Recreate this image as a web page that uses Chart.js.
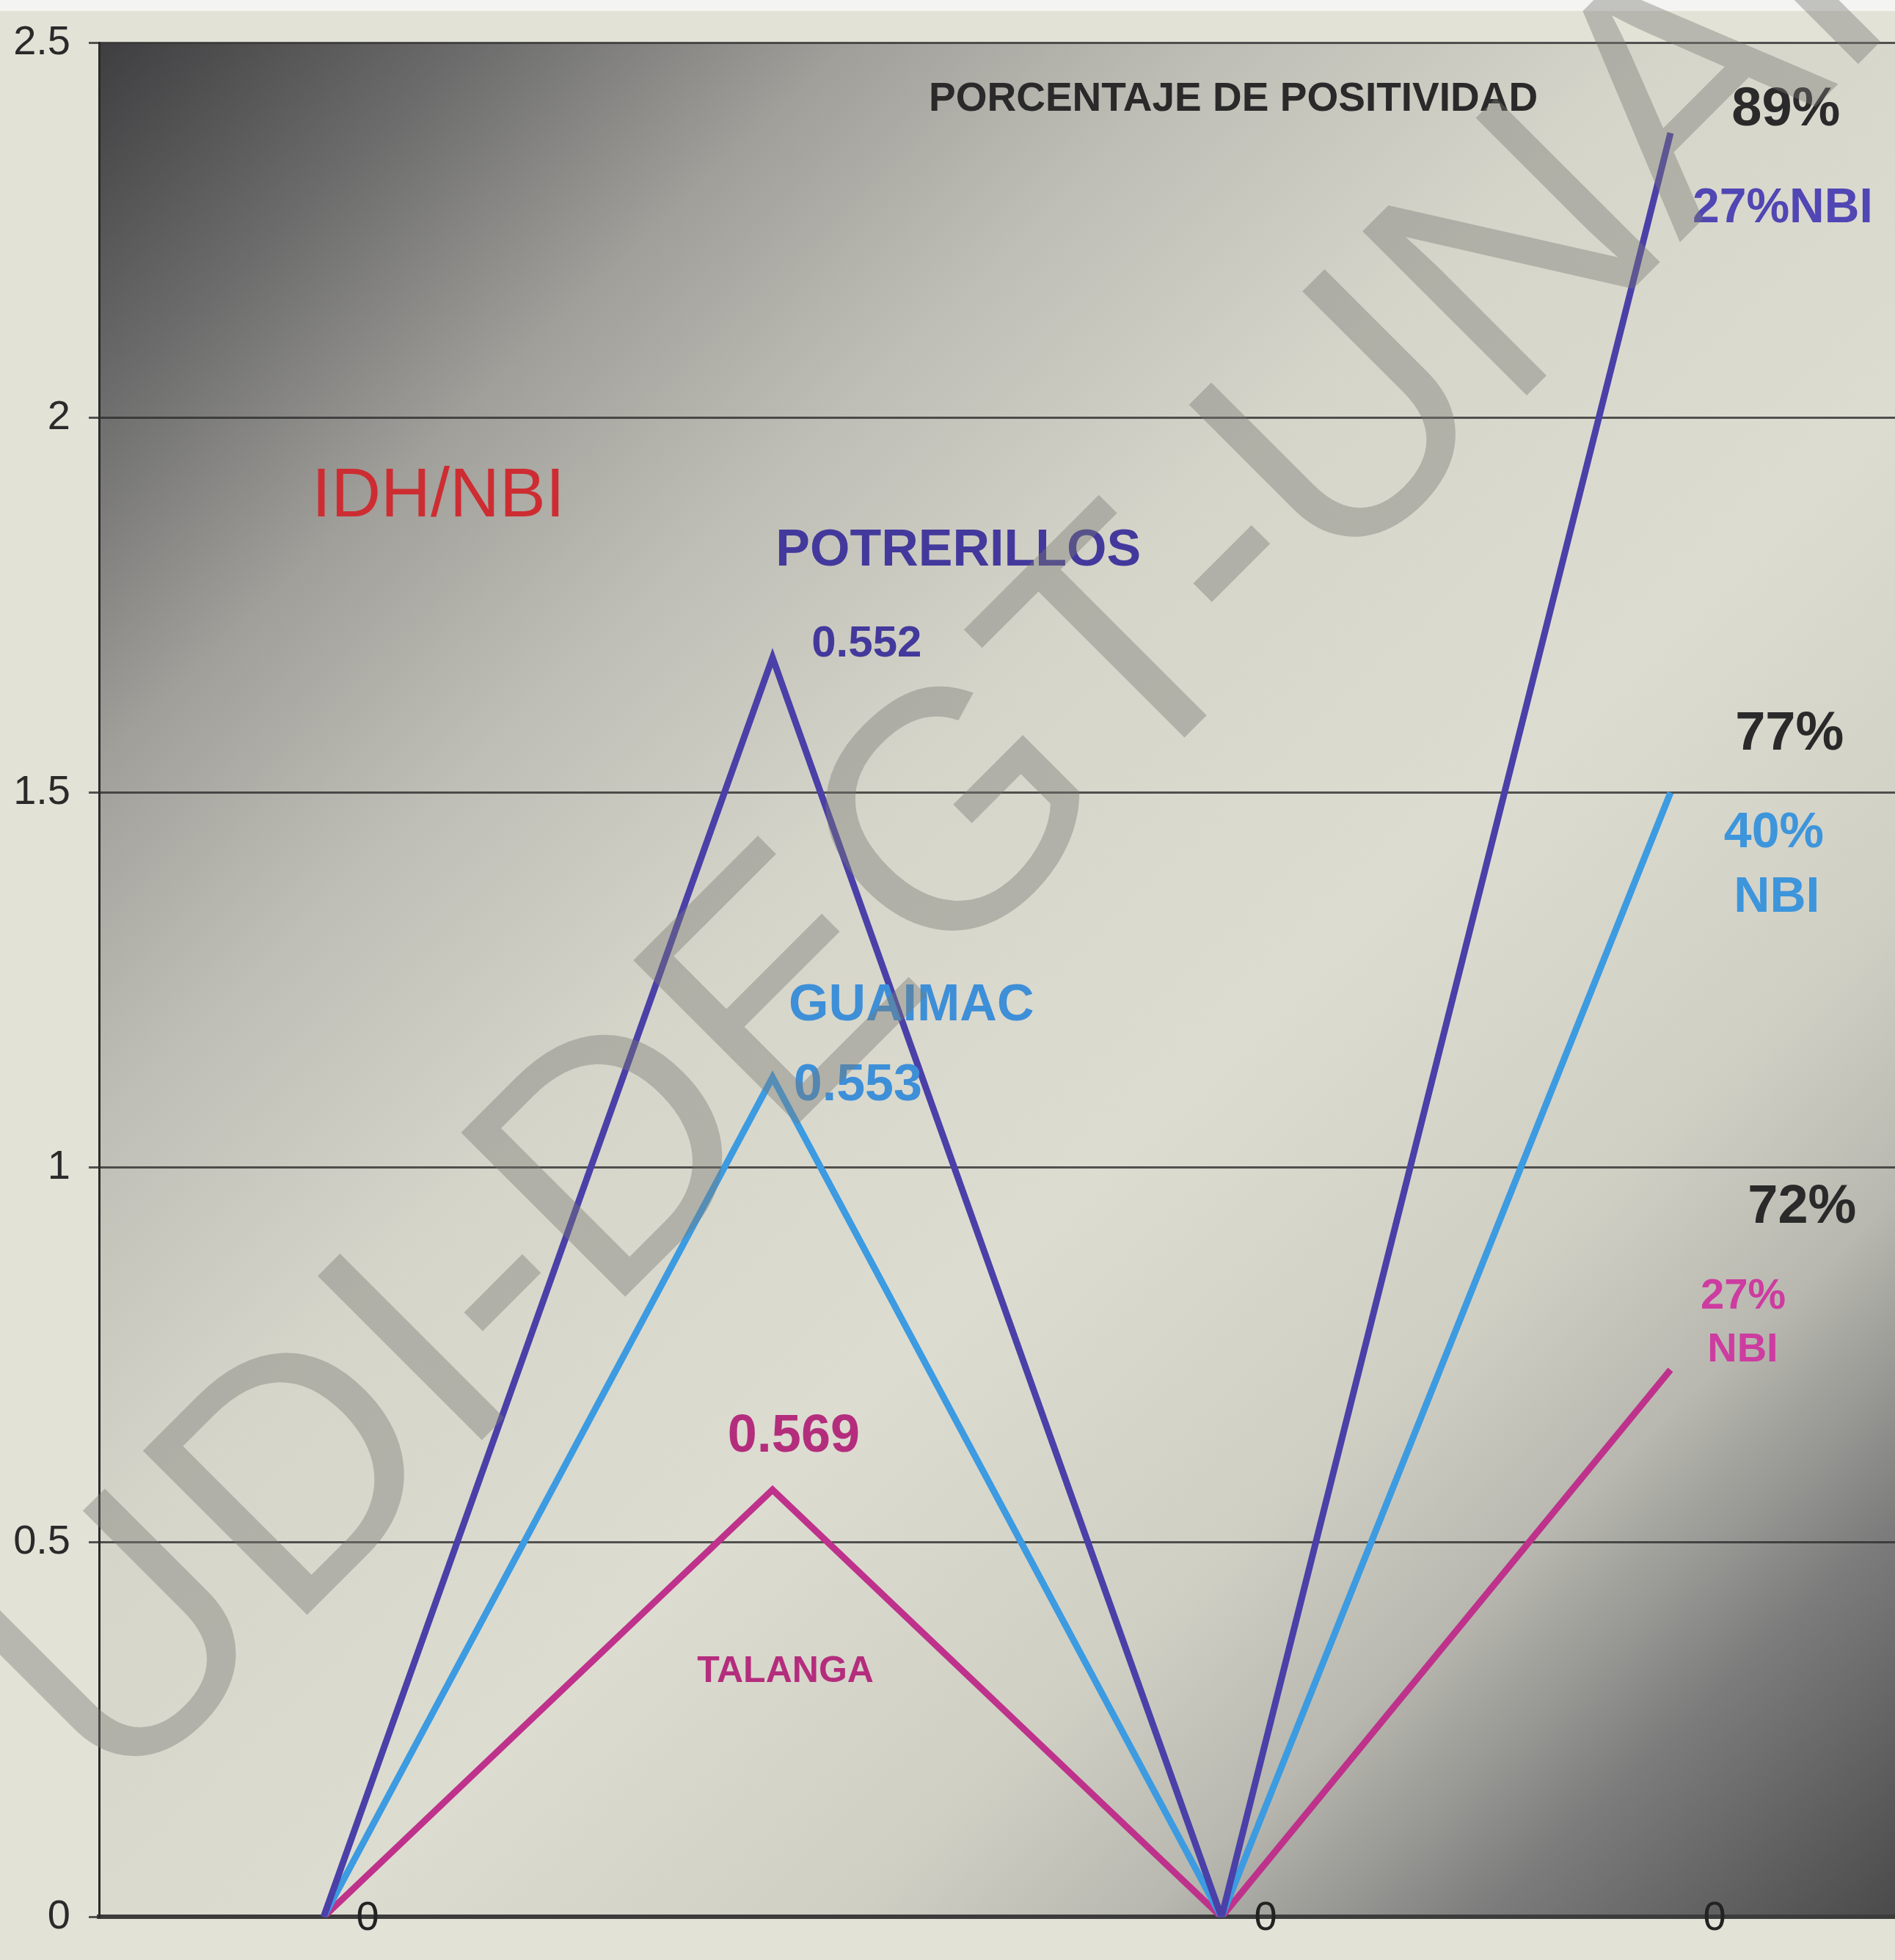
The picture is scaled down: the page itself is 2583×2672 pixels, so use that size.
<!DOCTYPE html>
<html>
<head>
<meta charset="utf-8">
<title>IDH/NBI - Porcentaje de positividad</title>
<script src="https://cdn.jsdelivr.net/npm/chart.js@4.4.1/dist/chart.umd.min.js"></script>
<style>
  html, body { margin: 0; padding: 0; background: #e3e2d7; }
  canvas { display: block; }
</style>
</head>
<body>
<canvas id="myChart" width="2583" height="2672"></canvas>
<script>
// x categories (tick labels as printed under the axis)
const categories = ['0', '', '0', '0'];

// series values
const potrerillos = [0, 1.68, 0, 2.38];
const guaimac = [0, 1.12, 0, 1.50];
const talanga = [0, 0.57, 0, 0.73];

// y axis
const yTicks = [0, 0.5, 1, 1.5, 2, 2.5];

// text written on the chart
const noteTexts = [
    'PORCENTAJE DE POSITIVIDAD', '89%', '27%NBI', '77%', '40%', 'NBI',
    '72%', '27%', 'NBI', 'IDH/NBI', 'POTRERILLOS', '0.552',
    'GUAIMAC', '0.553', '0.569', 'TALANGA'
];
const watermarkText = 'UDI-DEGT-UNAH';

const INDIGO = '#4a40a8';
const SKY = '#3c9be1';
const MAGENTA = '#be328c';
const BOLD = 'bold';
const SANS = "'Liberation Sans', Arial, sans-serif";

// where each note sits (x = category index, y = axis value) and how it looks
const noteStyles = [
    {x: 1.348, y: 2.424, size: 55, weight: BOLD, color: '#2a2a2a'},
    {x: 3.136, y: 2.410, size: 74, weight: BOLD, color: '#2a2a2a'},
    {x: 3.049, y: 2.279, size: 66, weight: BOLD, color: '#5046b4'},
    {x: 3.144, y: 1.577, size: 74, weight: BOLD, color: '#2a2a2a'},
    {x: 3.119, y: 1.445, size: 68, weight: BOLD, color: '#3d95dc'},
    {x: 3.141, y: 1.359, size: 68, weight: BOLD, color: '#3d95dc'},
    {x: 3.172, y: 0.946, size: 74, weight: BOLD, color: '#2a2a2a'},
    {x: 3.067, y: 0.827, size: 58, weight: BOLD, color: '#cd3ca0'},
    {x: 3.082, y: 0.756, size: 56, weight: BOLD, color: '#cd3ca0'},
    {x: -0.026, y: 1.894, size: 94, weight: 'normal', color: '#cd2d32'},
    {x: 1.007, y: 1.822, size: 70, weight: BOLD, color: '#43399c'},
    {x: 1.087, y: 1.698, size: 60, weight: BOLD, color: '#43399c'},
    {x: 1.036, y: 1.215, size: 70, weight: BOLD, color: '#3d8fd8'},
    {x: 1.047, y: 1.108, size: 70, weight: BOLD, color: '#3d8fd8'},
    {x: 0.900, y: 0.640, size: 72, weight: BOLD, color: '#b42d7d'},
    {x: 0.832, y: 0.327, size: 50, weight: BOLD, color: '#b42d7d'}
];

// paper + shaded plot area like the printed chart
const backdrop = {
    id: 'backdrop',
    beforeDraw(chart) {
        const ctx = chart.ctx;
        const a = chart.chartArea;
        ctx.save();
        ctx.fillStyle = '#e3e2d7';
        ctx.fillRect(0, 0, chart.width, chart.height);
        ctx.fillStyle = '#f4f4f2';
        ctx.fillRect(0, 0, chart.width, 15);
        const g = ctx.createLinearGradient(a.left, a.top, a.right, a.bottom);
        g.addColorStop(0, '#3e3e40');
        g.addColorStop(0.10, '#6c6c6c');
        g.addColorStop(0.20, '#a09f9a');
        g.addColorStop(0.30, '#bfbeb6');
        g.addColorStop(0.42, '#d6d5ca');
        g.addColorStop(0.58, '#dddcd1');
        g.addColorStop(0.72, '#d0cfc4');
        g.addColorStop(0.80, '#b8b8b0');
        g.addColorStop(0.89, '#7c7c7c');
        g.addColorStop(1, '#4a4a4a');
        ctx.fillStyle = g;
        ctx.fillRect(a.left, a.top, a.right - a.left, a.bottom - a.top);
        ctx.restore();
    }
};

const notes = {
    id: 'notes',
    afterDatasetsDraw(chart) {
        const ctx = chart.ctx;
        const xs = chart.scales.x;
        const ys = chart.scales.y;
        ctx.save();
        ctx.textAlign = 'left';
        ctx.textBaseline = 'middle';
        noteTexts.forEach((t, i) => {
            const s = noteStyles[i];
            ctx.font = s.weight + ' ' + s.size + 'px ' + SANS;
            ctx.fillStyle = s.color;
            ctx.fillText(t, xs.getPixelForValue(s.x), ys.getPixelForValue(s.y));
        });
        ctx.restore();
    }
};

const watermark = {
    id: 'watermark',
    afterDraw(chart) {
        const ctx = chart.ctx;
        ctx.save();
        ctx.translate(157, 2463);
        ctx.rotate(-Math.PI / 4);
        ctx.font = '460px ' + SANS;
        ctx.textAlign = 'left';
        ctx.textBaseline = 'alphabetic';
        ctx.fillStyle = 'rgba(120, 120, 114, 0.4)';
        ctx.fillText(watermarkText, 0, 0);
        ctx.restore();
    }
};

const ctx = document.getElementById('myChart').getContext('2d');
const chart = new Chart(ctx, {
    type: 'line',
    data: {
        labels: categories,
        datasets: [
            {label: 'POTRERILLOS', data: potrerillos, borderColor: INDIGO},
            {label: 'GUAIMAC', data: guaimac, borderColor: SKY},
            {label: 'TALANGA', data: talanga, borderColor: MAGENTA}
        ]
    },
    options: {
        responsive: false,
        animation: false,
        devicePixelRatio: 1,
        layout: {padding: {top: 54, left: 0, right: 0, bottom: 0}},
        elements: {
            line: {borderWidth: 9, tension: 0, borderJoinStyle: 'miter', fill: false},
            point: {radius: 0, hoverRadius: 0}
        },
        plugins: {
            legend: {display: false},
            tooltip: {enabled: false}
        },
        scales: {
            x: {
                offset: true,
                grid: {display: false, drawTicks: false},
                border: {display: true, color: '#3c3c3c', width: 6},
                ticks: {
                    color: '#222',
                    font: {family: SANS, size: 56},
                    mirror: true,
                    padding: -36,
                    labelOffset: 60,
                    maxRotation: 0,
                    autoSkip: false
                },
                afterFit(s) { s.height = 53; }
            },
            y: {
                min: 0,
                max: 2.5,
                afterBuildTicks(s) { s.ticks = yTicks.map(v => ({value: v})); },
                grid: {color: 'rgba(45, 45, 45, 0.8)', lineWidth: 3, tickLength: 14},
                border: {display: true, color: '#2a2a2a', width: 3},
                ticks: {
                    color: '#2a2a2a',
                    font: {family: SANS, size: 56},
                    padding: 25,
                    callback: (v) => String(v)
                },
                afterFit(s) { s.width = 135; }
            }
        }
    },
    plugins: [backdrop, notes, watermark]
});
</script>
</body>
</html>
